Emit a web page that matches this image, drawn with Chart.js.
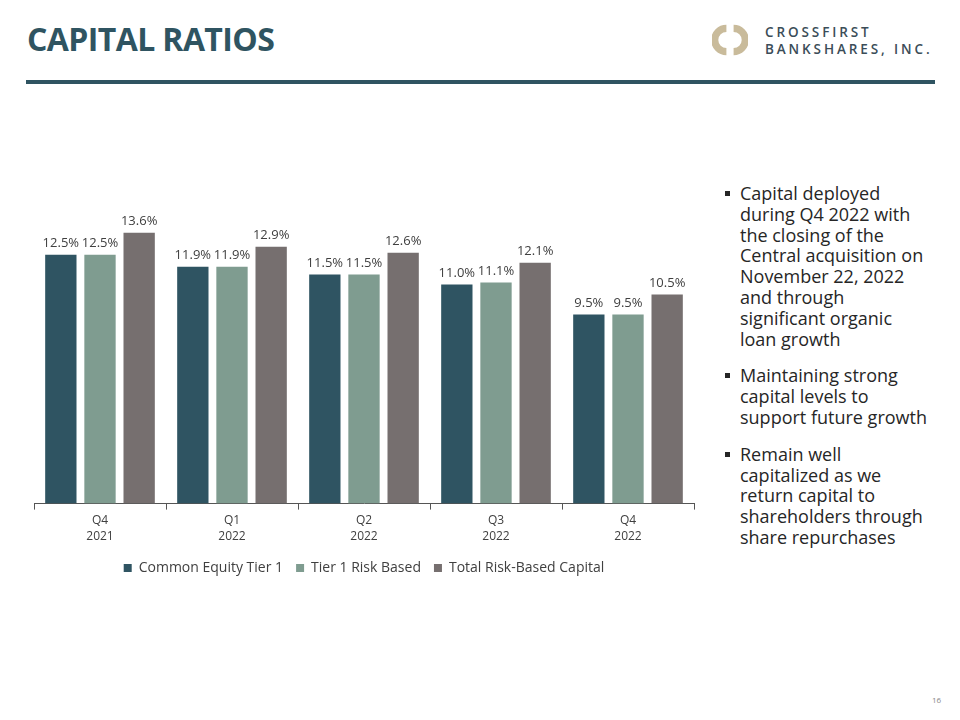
<!DOCTYPE html>
<html>
<head>
<meta charset="utf-8">
<script src="https://cdn.jsdelivr.net/npm/chart.js@4/dist/chart.umd.min.js"></script>
<style>
  body { margin: 0; width: 960px; height: 720px; background: #fff; position: relative; overflow: hidden; font-family: "Open Sans", sans-serif; }
  #title { position: absolute; left: 27px; top: 17px; font-size: 32px; font-weight: 700; color: #2f5461; letter-spacing: -0.6px; }
  #rule { position: absolute; left: 26px; top: 80px; width: 909px; height: 4px; background: #2f5461; }
  #logo { position: absolute; left: 712px; top: 22px; }
  #logoText { position: absolute; left: 765px; top: 24px; font-size: 13.5px; font-weight: 600; color: #3b4d58; letter-spacing: 2.9px; line-height: 17px; }
  #bullets { position: absolute; left: 724px; top: 183px; width: 236px; font-size: 18px; line-height: 20.8px; color: #262626; margin: 0; padding: 0; list-style: none; }
  #bullets li { position: relative; padding-left: 16px; margin-bottom: 16px; }
  #bullets li::before { content: ""; position: absolute; left: 1px; top: 8px; width: 5px; height: 5px; background: #262626; }
  #page { position: absolute; left: 932px; top: 694px; font-size: 8px; color: #888; }
  #wrap { position: absolute; left: 0; top: 150px; width: 720px; height: 445px; }
</style>
</head>
<body>
<div id="title">CAPITAL RATIOS</div>
<svg id="logo" width="36" height="36" viewBox="0 0 40 40">
  <path d="M16 3 A17 17 0 0 0 16 37 L16 29 A9 9 0 0 1 16 11 Z" fill="#c9bb9b"/>
  <path d="M24 3 A17 17 0 0 1 24 37 L24 29 A9 9 0 0 0 24 11 Z" fill="#c9bb9b"/>
</svg>
<div id="logoText">CROSSFIRST<br>BANKSHARES, INC.</div>
<div id="rule"></div>
<div id="wrap"><canvas id="chart"></canvas></div>
<ul id="bullets">
  <li>Capital deployed<br>during Q4 2022 with<br>the closing of the<br>Central acquisition on<br>November 22, 2022<br>and through<br>significant organic<br>loan growth</li>
  <li>Maintaining strong<br>capital levels to<br>support future growth</li>
  <li>Remain well<br>capitalized as we<br>return capital to<br>shareholders through<br>share repurchases</li>
</ul>
<div id="page">16</div>
<script>
// 数据
const quarters = [['Q4', '2021'], ['Q1', '2022'], ['Q2', '2022'], ['Q3', '2022'], ['Q4', '2022']];
const cet1 = [12.5, 11.9, 11.5, 11.0, 9.5];
const tier1 = [12.5, 11.9, 11.5, 11.1, 9.5];
const totalRbc = [13.6, 12.9, 12.6, 12.1, 10.5];

// 柱顶数值标签
const valueLabels = {
    id: 'valueLabels',
    afterDatasetsDraw(chart) {
        const ctx = chart.ctx;
        ctx.save();
        ctx.font = '13px "Open Sans"';
        ctx.fillStyle = '#404040';
        ctx.textAlign = 'center';
        ctx.textBaseline = 'bottom';
        chart.data.datasets.forEach((ds, i) => {
            chart.getDatasetMeta(i).data.forEach((bar, j) => {
                ctx.fillText(ds.data[j].toFixed(1) + '%', bar.x, bar.y - 5);
            });
        });
        ctx.restore();
    }
};

new Chart(document.getElementById('chart'), {
    type: 'bar',
    data: {
        labels: quarters,
        datasets: [
            { label: 'Common Equity Tier 1', data: cet1, backgroundColor: '#2f5462' },
            { label: 'Tier 1 Risk Based', data: tier1, backgroundColor: '#7f9c90' },
            { label: 'Total Risk-Based Capital', data: totalRbc, backgroundColor: '#766f6f' }
        ]
    },
    options: {
        responsive: true,
        maintainAspectRatio: false,
        animation: false,
        categoryPercentage: 0.89,
        barPercentage: 0.8,
        layout: { padding: { left: 34, right: 26, top: 35, bottom: 10 } },
        plugins: {
            tooltip: { enabled: false },
            legend: {
                position: 'bottom',
                labels: {
                    boxWidth: 8,
                    boxHeight: 8,
                    padding: 13,
                    color: '#404040',
                    font: { family: 'Open Sans', size: 14 }
                }
            }
        },
        scales: {
            x: {
                grid: { drawOnChartArea: false, tickLength: 6, color: '#555' },
                border: { color: '#555', width: 1 },
                ticks: { color: '#404040', font: { family: 'Open Sans', size: 12, lineHeight: 1.35 }, padding: 3 }
            },
            y: {
                display: false,
                min: 0,
                max: 16
            }
        }
    },
    plugins: [valueLabels]
});
</script>
</body>
</html>
